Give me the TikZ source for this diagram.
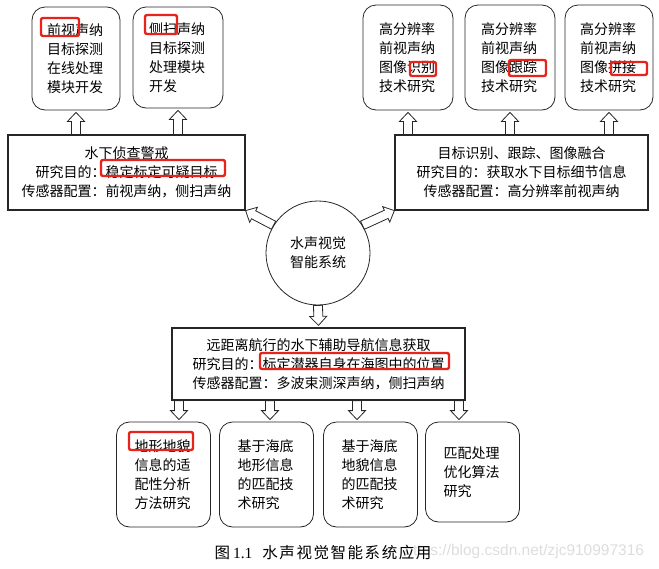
\documentclass[tikz,border=0pt]{standalone}
\usepackage{fontspec}
\setmainfont{Noto Sans CJK SC}
\newfontfamily\latinserif{Liberation Serif}
\newfontfamily\urlfont{Liberation Sans}
\usetikzlibrary{calc}
\definecolor{inkGray}{HTML}{262626}
\definecolor{markRed}{HTML}{E8231C}
\definecolor{waterGray}{HTML}{DDDDDD}

\begin{document}
\begin{tikzpicture}[x=1pt,y=-1pt,
    every node/.style={font=\fontsize{14}{19}\selectfont},
    task/.style={draw=inkGray,rounded corners=13pt,line width=0.8pt,text width=58pt,align=left,inner sep=0pt,minimum width=94pt,minimum height=105pt},
    goal/.style={draw=inkGray,line width=1.2pt,align=center,inner sep=0pt},
    hub/.style={circle,draw=inkGray,line width=0.8pt,minimum size=104pt,align=center,inner sep=0pt},
    hilite/.style={draw=markRed,line width=2.4pt,rounded corners=2pt},
    fat/.style={draw=inkGray,line width=0.8pt,to path={
        let \p1=(\tikztostart), \p2=(\tikztotarget),
            \n1={atan2(\y2-\y1,\x2-\x1)}, \n2={veclen(\x2-\x1,\y2-\y1)} in
        [shift={(\p1)},rotate=\n1]
        (0pt,-4.5pt) -- ({(\n2-9)*1pt},-4.5pt) -- ({(\n2-9)*1pt},-8.5pt) -- ({\n2*1pt},0pt)
        -- ({(\n2-9)*1pt},8.5pt) -- ({(\n2-9)*1pt},4.5pt) -- (0pt,4.5pt) -- cycle}}
  ]
    \useasboundingbox (0,0) rectangle (659,568);

    % top row
    \node[task,minimum width=88pt,minimum height=103pt] (fwd) at (76,58.5) {前视声纳\\目标探测\\在线处理\\模块开发};
    \node[task,minimum width=90pt,minimum height=101pt] (side) at (178,57.5) {侧扫声纳\\目标探测\\处理模块\\开发};
    \node[task,minimum width=90pt] (recog) at (408,57.5) {高分辨率\\前视声纳\\图像识别\\技术研究};
    \node[task,minimum width=90pt] (track) at (510,57.5) {高分辨率\\前视声纳\\图像跟踪\\技术研究};
    \node[task,minimum width=88pt] (mosaic) at (609,57.5) {高分辨率\\前视声纳\\图像拼接\\技术研究};

    % application boxes
    \node[goal,minimum width=237pt,minimum height=75pt] (spy) at (126.5,172.5)
      {水下侦查警戒\\研究目的：稳定标定可疑目标\\传感器配置：前视声纳，侧扫声纳};
    \node[goal,minimum width=253pt,minimum height=75pt] (detail) at (521.5,172.5)
      {目标识别、跟踪、图像融合\\研究目的：获取水下目标细节信息\\传感器配置：高分辨率前视声纳};
    \node[hub] (sys) at (318,253) {水声视觉\\智能系统};
    \node[goal,minimum width=293pt,minimum height=72pt] (nav) at (318.5,364)
      {远距离航行的水下辅助导航信息获取\\研究目的：标定潜器自身在海图中的位置\\传感器配置：多波束测深声纳，侧扫声纳};

    % bottom row
    \node[task] (terrain) at (163.5,474.5) {地形地貌\\信息的适\\配性分析\\方法研究};
    \node[task] (topo) at (266.5,474.5) {基于海底\\地形信息\\的匹配技\\术研究};
    \node[task] (relief) at (370.5,474.5) {基于海底\\地貌信息\\的匹配技\\术研究};
    \node[task,minimum height=100pt] (optim) at (472.5,472) {匹配处理\\优化算法\\研究};

    % hollow arrows
    \draw[fat] (spy.north -| fwd.south) to ([yshift=-2pt]fwd.south);
    \draw[fat] (spy.north -| side.south) to ([yshift=-2pt]side.south);
    \draw[fat] (detail.north -| recog.south) to ([yshift=-2pt]recog.south);
    \draw[fat] (detail.north -| track.south) to ([yshift=-2pt]track.south);
    \draw[fat] (detail.north -| mosaic.south) to ([yshift=-2pt]mosaic.south);
    \draw[fat] (sys.148) to (spy.south east);
    \draw[fat] (sys.32) to (detail.south west);
    \draw[fat] (sys.south) to ([yshift=2pt]nav.north);
    \coordinate (d1) at ([xshift=15.5pt,yshift=2pt]terrain.north);
    \coordinate (d2) at ([xshift=3.5pt,yshift=2pt]topo.north);
    \coordinate (d3) at ([xshift=-13.5pt,yshift=2pt]relief.north);
    \coordinate (d4) at ([xshift=-13.5pt,yshift=2pt]optim.north);
    \draw[fat] (nav.south -| d1) to (d1);
    \draw[fat] (nav.south -| d2) to (d2);
    \draw[fat] (nav.south -| d3) to (d3);
    \draw[fat] (nav.south -| d4) to (d4);

    % red marks
    \draw[hilite] (41,18) rectangle (79,36);
    \draw[hilite] (145,15) rectangle (177,34);
    \draw[hilite] (410,62) rectangle (436,76);
    \draw[hilite] (509,60) rectangle (546,76);
    \draw[hilite] (611,62) rectangle (647,75);
    \draw[hilite] (101,160) rectangle (225,176);
    \draw[hilite] (260,353) rectangle (449,369);
    \draw[hilite] (129,432) rectangle (193,450);

    % caption
    \node[anchor=west,text=waterGray,font=\urlfont\fontsize{15.5}{16}\selectfont] (wm) at (401,551) {https://blog.csdn.net/zjc910997316};
    \node[anchor=west,font=\fontsize{15.5}{16}\selectfont\addfontfeature{LetterSpace=10}] (caption) at (211,553)
      {图\hspace{3pt}{\latinserif 1.1}\hspace{10pt}水声视觉智能系统应用};
\end{tikzpicture}
\end{document}
